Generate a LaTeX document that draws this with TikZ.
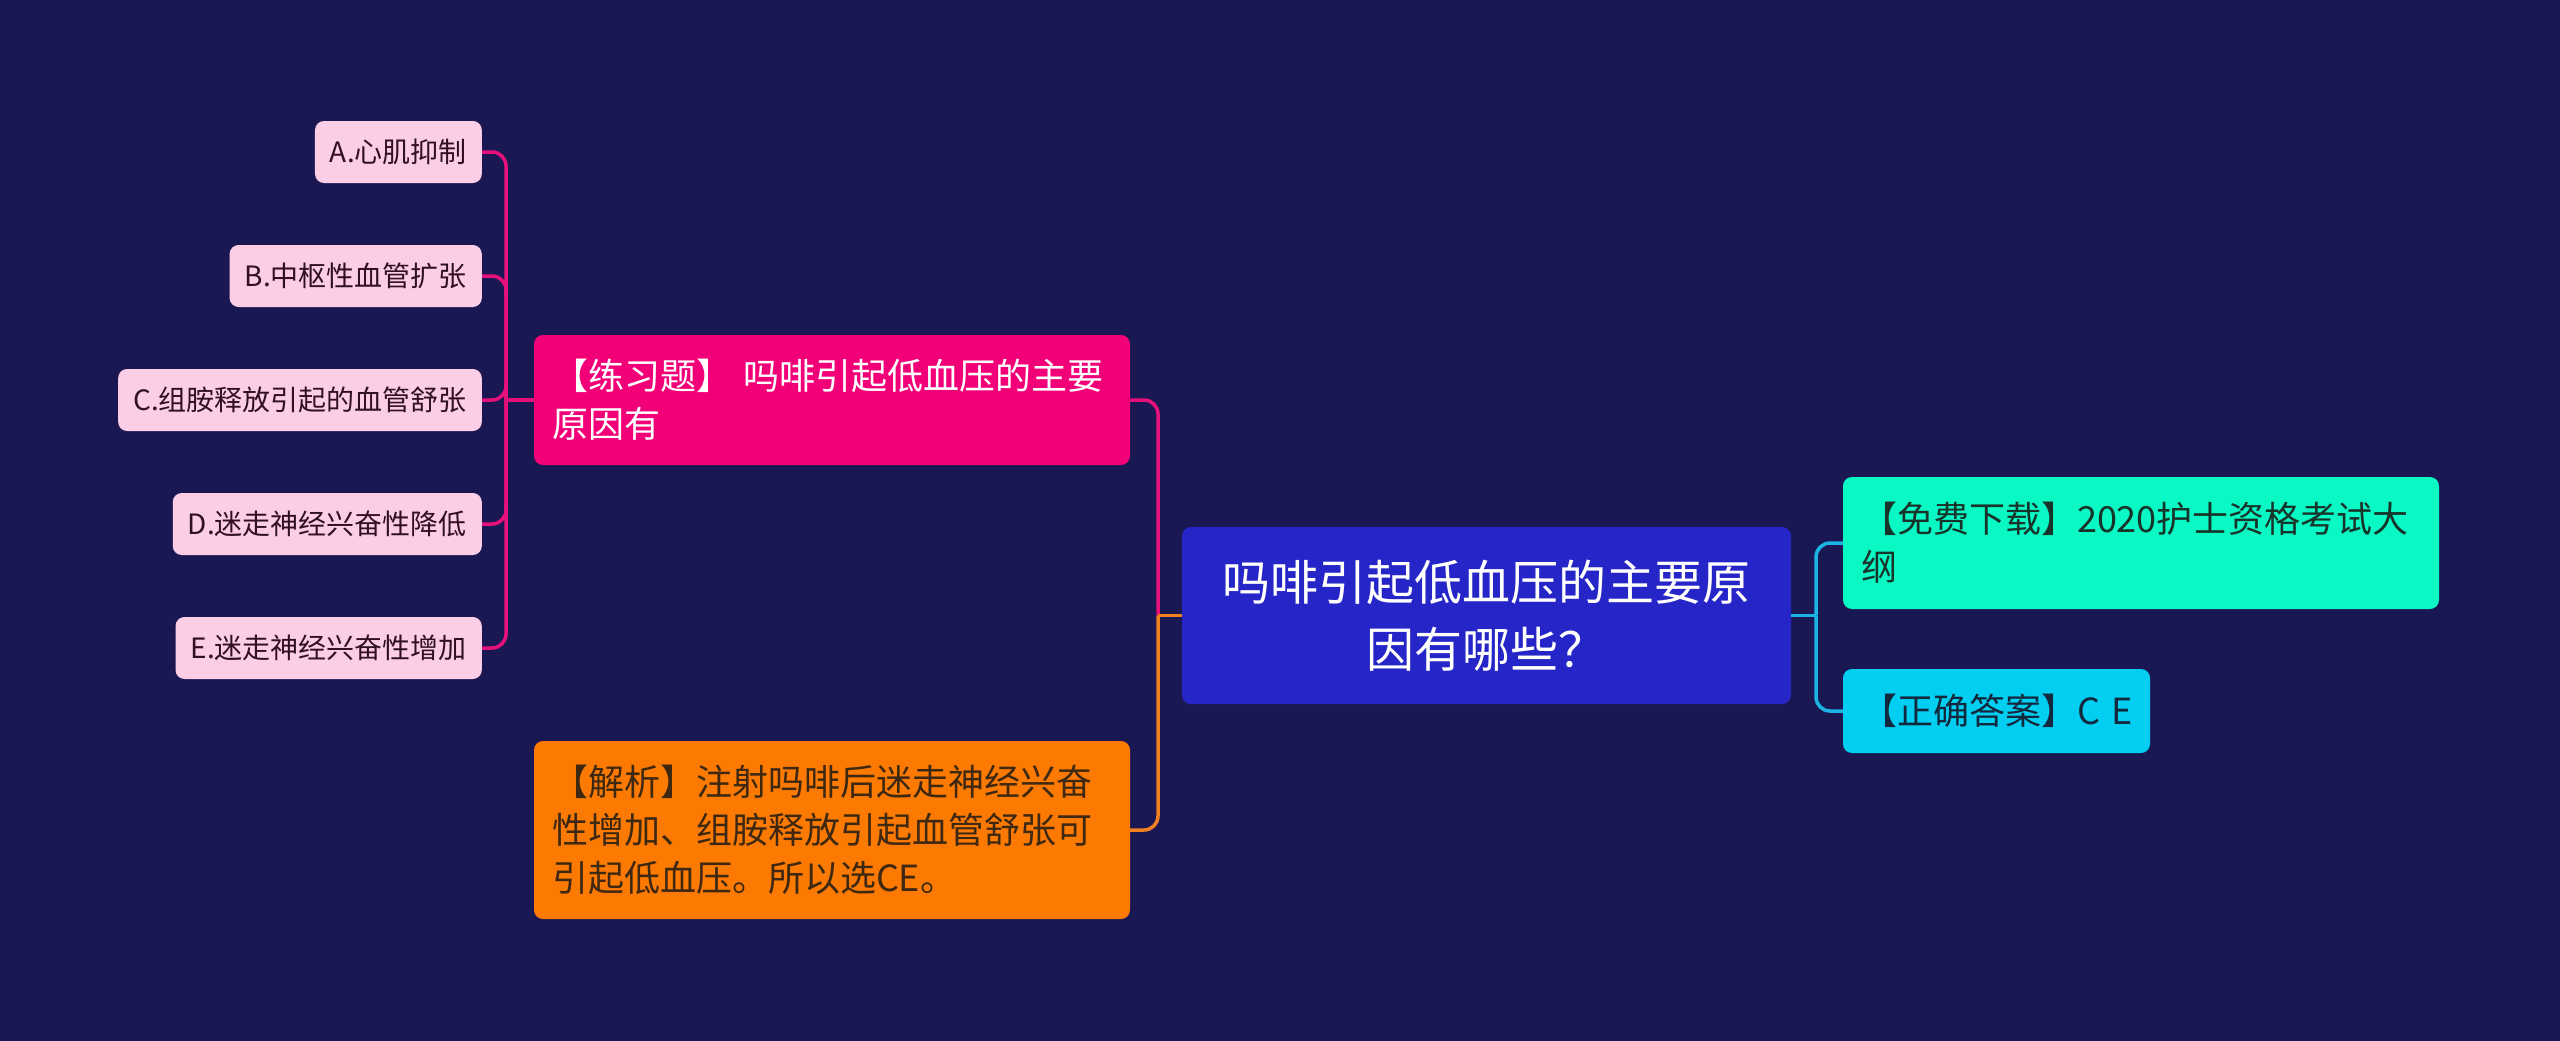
\documentclass[tikz,border=0pt]{standalone}
\usepackage{fontspec}
\setmainfont{Noto Sans CJK SC}
\definecolor{bgc}{RGB}{25,24,82}
\definecolor{pinkc}{RGB}{242,0,120}
\definecolor{pinkline}{RGB}{232,16,122}
\definecolor{lightpink}{RGB}{252,206,230}
\definecolor{childtext}{RGB}{48,16,34}
\definecolor{orangec}{RGB}{252,122,2}
\definecolor{orangeline}{RGB}{240,128,32}
\definecolor{orangetext}{RGB}{62,40,18}
\definecolor{centerc}{RGB}{38,38,200}
\definecolor{greenc}{RGB}{10,248,196}
\definecolor{greentext}{RGB}{22,52,42}
\definecolor{cyanc}{RGB}{2,206,242}
\definecolor{cyantext}{RGB}{18,40,60}
\definecolor{cyanline}{RGB}{28,180,228}
\begin{document}
\begin{tikzpicture}[x=1pt,y=-1pt,
  childbox/.style={fill=lightpink, text=childtext, rounded corners=9pt, inner xsep=15pt, inner ysep=0pt,
    minimum height=62pt, anchor=east, font=\fontsize{28}{34}\selectfont},
  midbox/.style={rounded corners=9pt, inner xsep=18pt, inner ysep=0pt, align=left,
    font=\fontsize{36}{48}\selectfont},
  wire/.style={line width=3.5pt, rounded corners=14pt}]
\fill[bgc] (0,0) rectangle (2560,1041);
\useasboundingbox (0,0) rectangle (2560,1041);
% center
\node[fill=centerc, text=white, rounded corners=9pt, minimum width=609pt, minimum height=177pt,
  align=center, font=\fontsize{48}{67}\selectfont] (m) at (1486.5,615.5)
  {吗啡引起低血压的主要原\\因有哪些？};
% left level
\node[midbox, fill=pinkc, text=white, text width=560pt, minimum height=130pt] (p) at (832,400)
  {【练习题】 吗啡引起低血压的主要\\原因有};
\node[midbox, fill=orangec, text=orangetext, text width=560pt, minimum height=178pt] (o) at (832,830)
  {【解析】注射吗啡后迷走神经兴奋\\性增加、组胺释放引起血管舒张可\\引起低血压。所以选CE。};
% right level
\node[midbox, fill=greenc, text=greentext, text width=560pt, minimum height=132pt] (g) at (2141,543)
  {【免费下载】2020护士资格考试大\\纲};
\node[midbox, fill=cyanc, text=cyantext, text width=271pt, minimum height=84pt] (k) at (1996.5,711)
  {\mbox{【正确答案】C E}};
% children
\node[childbox] (a) at (482,152) {A.心肌抑制};
\node[childbox] (b) at (482,276) {B.中枢性血管扩张};
\node[childbox] (c) at (482,400) {C.组胺释放引起的血管舒张};
\node[childbox] (d) at (482,524) {D.迷走神经兴奋性降低};
\node[childbox] (e) at (482,648) {E.迷走神经兴奋性增加};
% junctions
\coordinate (jl) at (1158,615.5);
\coordinate (jc) at (506,400);
\coordinate (jr) at (1816,615.5);
% connectors
\draw[wire, pinkline] (jl) |- (p.east);
\draw[wire, orangeline] (jl) |- (o.east);
\draw[line width=3.5pt, orangeline] (m.west) -- (jl);
\draw[line width=3.5pt, pinkline] (p.west) -- (jc);
\foreach \n in {a,b,c,d,e} \draw[wire, pinkline] (jc) |- (\n.east);
\draw[line width=3.5pt, cyanline] (m.east) -- (jr);
\draw[wire, cyanline] (jr) |- (g.west);
\draw[wire, cyanline] (jr) |- (k.west);
\end{tikzpicture}
\end{document}
